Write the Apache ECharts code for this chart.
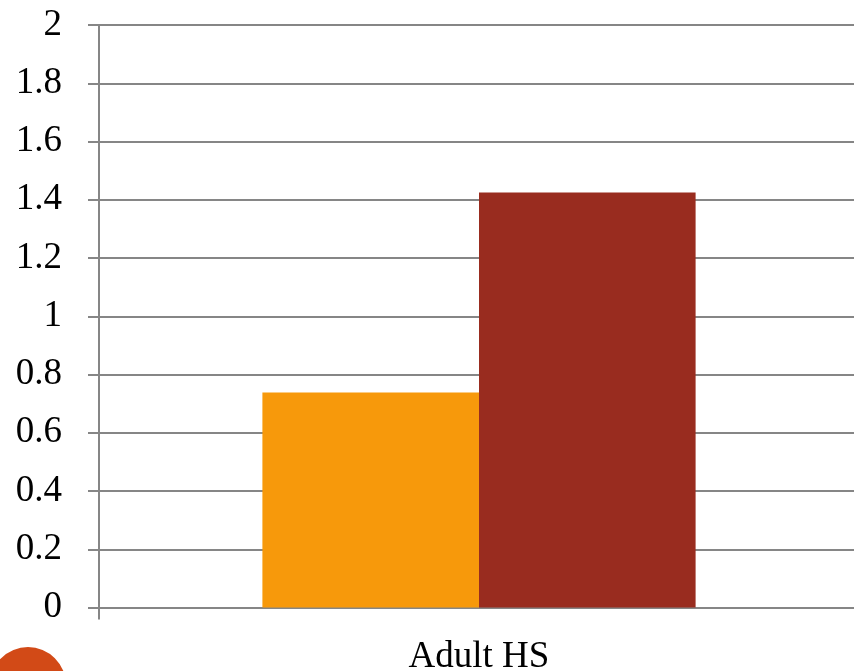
<!DOCTYPE html>
<html>
<head>
<meta charset="utf-8">
<style>
  html, body { margin: 0; padding: 0; background: #ffffff; }
  #chart { width: 854px; height: 671px; }
</style>
<script src="https://cdn.jsdelivr.net/npm/echarts@6/dist/echarts.min.js"></script>
</head>
<body>
<div id="chart"></div>
<script>
// Category and series values
const categories = ['Adult HS'];
const seriesA = [0.738];
const seriesB = [1.425];
const yTicks = [0, 0.2, 0.4, 0.6, 0.8, 1, 1.2, 1.4, 1.6, 1.8, 2];

const gridColor = '#868686';
const fontFamily = '"Liberation Serif", "DejaVu Serif", serif';

const chart = echarts.init(document.getElementById('chart'), null, { renderer: 'canvas' });

chart.setOption({
  animation: false,
  backgroundColor: '#ffffff',
  // plot area runs a little past the right edge of the canvas
  grid: {
    left: 99, top: 25, width: 760, height: 582.5,
    containLabel: false, outerBoundsMode: 'none'
  },
  xAxis: {
    type: 'category',
    data: categories,
    axisLine: { show: true, lineStyle: { color: gridColor, width: 2 } },
    axisTick: { show: true, length: 12, alignWithLabel: false, lineStyle: { color: gridColor, width: 2 } },
    axisLabel: { color: '#000000', fontSize: 37, fontFamily: fontFamily, margin: 31 }
  },
  yAxis: {
    type: 'value',
    min: yTicks[0],
    max: yTicks[yTicks.length - 1],
    interval: 0.2,
    axisLine: { show: true, lineStyle: { color: gridColor, width: 2 } },
    axisTick: { show: true, length: 11, lineStyle: { color: gridColor, width: 2 } },
    splitLine: { show: true, lineStyle: { color: gridColor, width: 2 } },
    axisLabel: {
      color: '#000000', fontSize: 37, fontFamily: fontFamily, margin: 37,
      formatter: function (v) { return String(Math.round(v * 10) / 10); }
    }
  },
  series: [
    {
      type: 'bar', data: seriesA, barGap: '0%', barCategoryGap: '43%',
      itemStyle: { color: '#F7990B' }
    },
    {
      type: 'bar', data: seriesB, barGap: '0%', barCategoryGap: '43%',
      itemStyle: { color: '#992C1F' }
    }
  ],
  graphic: [
    {
      type: 'circle',
      shape: { cx: 28, cy: 685, r: 38 },
      style: { fill: '#D24A17' },
      z: 10
    }
  ]
});
</script>
</body>
</html>
